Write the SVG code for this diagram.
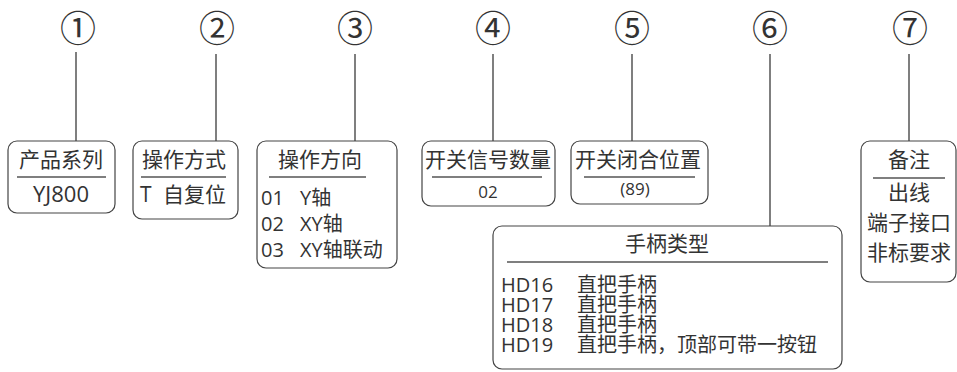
<svg xmlns="http://www.w3.org/2000/svg" width="957" height="372" viewBox="0 0 957 372">
<style>
text{font-family:"Open Sans","Noto Sans CJK SC",sans-serif;fill:#333}
.num{font-family:"Noto Sans CJK SC",sans-serif;font-size:36px;text-anchor:middle}
.t{font-size:21px;text-anchor:middle}
.b{font-size:20px}
.c{text-anchor:middle}
.box{fill:#fff;stroke:#444;stroke-width:1.2}
.div{stroke:#555;stroke-width:1.3}
.ln{stroke:#555;stroke-width:1.5;fill:none}
</style>
<rect width="957" height="372" fill="#fff"/>
<g id="labels">
<text class="num" x="78" y="42">①</text>
<text class="num" x="217" y="42">②</text>
<text class="num" x="355" y="42">③</text>
<text class="num" x="493" y="42">④</text>
<text class="num" x="632" y="42">⑤</text>
<text class="num" x="770" y="42">⑥</text>
<text class="num" x="910" y="42">⑦</text>
</g>
<g id="connectors">
<line class="ln" x1="76" y1="52" x2="76" y2="141"/>
<line class="ln" x1="216" y1="54" x2="216" y2="141"/>
<line class="ln" x1="355" y1="54" x2="355" y2="141"/>
<line class="ln" x1="493" y1="54" x2="493" y2="141"/>
<line class="ln" x1="632" y1="54" x2="632" y2="141"/>
<line class="ln" x1="770" y1="54" x2="770" y2="226"/>
<line class="ln" x1="909" y1="54" x2="909" y2="141"/>
</g>
<g id="n1">
<rect class="box" x="8" y="141" width="107" height="72" rx="9"/>
<text class="t" x="61" y="167">产品系列</text>
<line class="div" x1="17" y1="177" x2="106" y2="177"/>
<text class="t" x="61" y="202" style="font-size:22px">YJ800</text>
</g>
<g id="n2">
<rect class="box" x="133" y="141" width="105" height="78" rx="9"/>
<text class="t" x="184" y="167">操作方式</text>
<line class="div" x1="141" y1="177" x2="226" y2="177"/>
<text x="140" y="202" style="font-size:21px">T<tspan x="163">自复位</tspan></text>
</g>
<g id="n3">
<rect class="box" x="257" y="141" width="140" height="127" rx="9"/>
<text class="t" x="320" y="167">操作方向</text>
<line class="div" x1="269" y1="177" x2="366" y2="177"/>
<text class="b" x="261" y="205">01<tspan x="300">Y轴</tspan></text>
<text class="b" x="261" y="231">02<tspan x="300">XY轴</tspan></text>
<text class="b" x="261" y="257">03<tspan x="300">XY轴联动</tspan></text>
</g>
<g id="n4">
<rect class="box" x="422" y="141" width="133" height="65" rx="9"/>
<text class="t" x="488" y="167">开关信号数量</text>
<line class="div" x1="432" y1="177" x2="542" y2="177"/>
<text class="c" x="488" y="198" style="font-size:17px">02</text>
</g>
<g id="n5">
<rect class="box" x="571" y="141" width="137" height="63" rx="9"/>
<text class="t" x="638" y="167">开关闭合位置</text>
<line class="div" x1="584" y1="177" x2="695" y2="177"/>
<text class="c" x="635" y="195" style="font-size:17px">(89)</text>
</g>
<g id="n6">
<rect class="box" x="493" y="226" width="349" height="143" rx="9"/>
<text class="t" x="667" y="251">手柄类型</text>
<line class="div" x1="507" y1="262" x2="828" y2="262"/>
<text class="b" x="501" y="292">HD16<tspan x="577">直把手柄</tspan></text>
<text class="b" x="501" y="312">HD17<tspan x="577">直把手柄</tspan></text>
<text class="b" x="501" y="332">HD18<tspan x="577">直把手柄</tspan></text>
<text class="b" x="501" y="352">HD19<tspan x="577">直把手柄，顶部可带一按钮</tspan></text>
</g>
<g id="n7">
<rect class="box" x="861" y="141" width="95" height="141" rx="9"/>
<text class="t" x="909" y="167">备注</text>
<line class="div" x1="873" y1="178" x2="945" y2="178"/>
<text class="t" x="909" y="200">出线</text>
<text class="t" x="909" y="230">端子接口</text>
<text class="t" x="909" y="260">非标要求</text>
</g>
</svg>
